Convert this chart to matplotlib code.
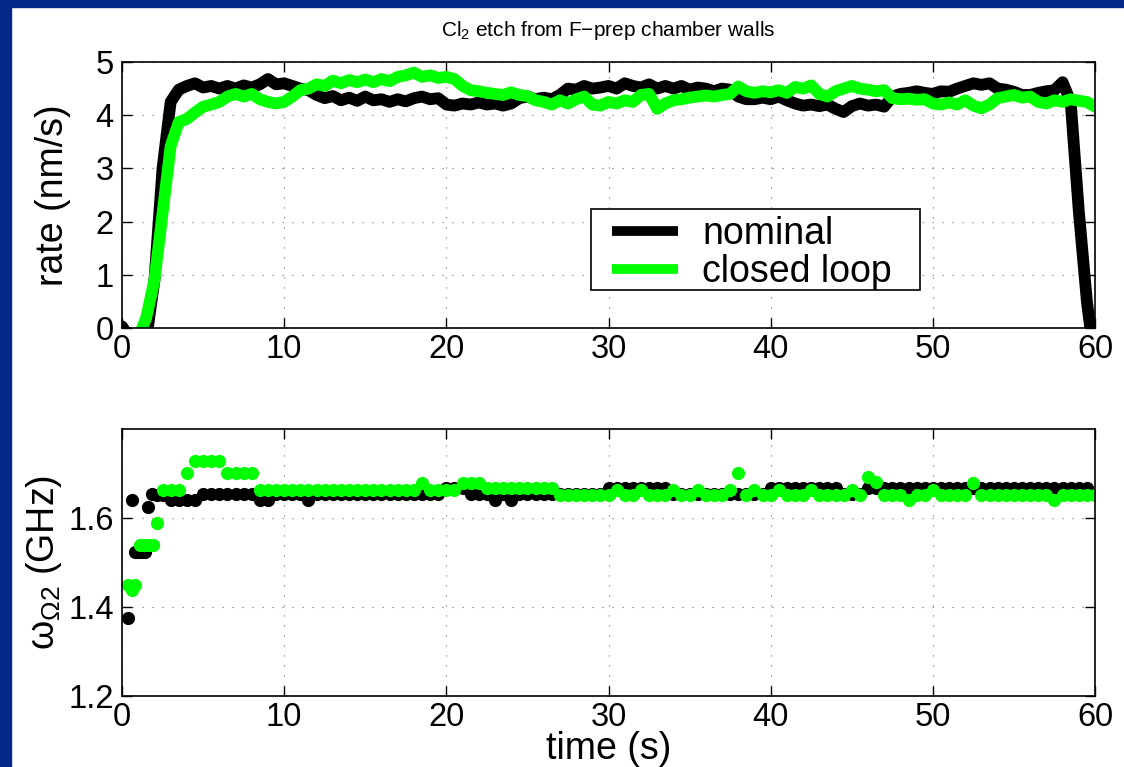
import numpy as np
import matplotlib
matplotlib.use('Agg')
import matplotlib.pyplot as plt
from matplotlib.patches import Rectangle

plt.rcParams['font.family'] = ['Liberation Sans', 'DejaVu Sans']
plt.rcParams['mathtext.fontset'] = 'custom'
plt.rcParams['mathtext.rm'] = 'Liberation Sans'
plt.rcParams['mathtext.it'] = 'Liberation Sans'

# %% data
# top panel: etch rate, sampled every 0.5 s from 0 to 60 s
t_rate = np.linspace(0, 60, 121)
rate_nominal = [0.03, -0.2, -0.2, -0.2,
                0.9, 3.0, 4.25, 4.48,
                4.55, 4.6, 4.52, 4.55,
                4.5, 4.55, 4.5, 4.56,
                4.52, 4.58, 4.68, 4.58,
                4.6, 4.55, 4.5, 4.47,
                4.38, 4.32, 4.36, 4.28,
                4.33, 4.27, 4.35, 4.28,
                4.3, 4.25, 4.3, 4.26,
                4.32, 4.35, 4.3, 4.32,
                4.2, 4.18, 4.22, 4.2,
                4.24, 4.2, 4.22, 4.18,
                4.22, 4.32, 4.35, 4.3,
                4.33, 4.3, 4.38, 4.5,
                4.48, 4.55, 4.5, 4.52,
                4.55, 4.5, 4.6, 4.55,
                4.52, 4.58, 4.5, 4.55,
                4.5, 4.55, 4.48, 4.52,
                4.5, 4.45, 4.5, 4.48,
                4.35, 4.3, 4.3, 4.33,
                4.3, 4.35, 4.28, 4.22,
                4.18, 4.2, 4.17, 4.2,
                4.12, 4.06, 4.17, 4.22,
                4.18, 4.2, 4.16, 4.35,
                4.4, 4.42, 4.45, 4.42,
                4.4, 4.45, 4.44, 4.5,
                4.55, 4.6, 4.57, 4.6,
                4.5, 4.48, 4.44, 4.38,
                4.38, 4.42, 4.45, 4.47,
                4.62, 4.25, 2.2, 0.5,
                -0.7]
rate_closed = [-0.2, -0.2, -0.2, 0.2,
               0.9, 2.15, 3.42, 3.87,
               3.93, 4.05, 4.16, 4.2,
               4.25, 4.35, 4.4, 4.35,
               4.4, 4.3, 4.25, 4.22,
               4.25, 4.35, 4.47, 4.5,
               4.58, 4.55, 4.65, 4.6,
               4.66, 4.62, 4.67, 4.62,
               4.68, 4.64, 4.72, 4.75,
               4.8, 4.72, 4.75, 4.7,
               4.72, 4.68, 4.55, 4.47,
               4.45, 4.42, 4.4, 4.38,
               4.43, 4.38, 4.36, 4.28,
               4.25, 4.2, 4.28, 4.22,
               4.3, 4.35, 4.2, 4.18,
               4.25, 4.22, 4.28, 4.25,
               4.38, 4.4, 4.12, 4.22,
               4.28, 4.3, 4.33, 4.35,
               4.37, 4.35, 4.38, 4.4,
               4.54, 4.45, 4.42, 4.45,
               4.43, 4.47, 4.42, 4.53,
               4.5, 4.56, 4.4, 4.35,
               4.45, 4.5, 4.55, 4.5,
               4.48, 4.45, 4.47, 4.32,
               4.3, 4.31, 4.29, 4.3,
               4.22, 4.2, 4.24, 4.2,
               4.28, 4.18, 4.13, 4.2,
               4.32, 4.35, 4.38, 4.33,
               4.35, 4.25, 4.22, 4.28,
               4.25, 4.3, 4.27, 4.25,
               4.16]

# bottom panel: omega (GHz); first seconds irregular, then every 0.5 s from 2.5 s
t_w_nom_early = [0.4, 0.6, 0.8, 1.0, 1.2, 1.4, 1.6, 1.85, 2.15]
w_nom_early = [1.376, 1.64, 1.524, 1.524, 1.524, 1.524, 1.624, 1.654, 1.652]
t_w_cl_early = [0.4, 0.6, 0.8, 1.1, 1.3, 1.5, 1.7, 1.9, 2.15]
w_cl_early = [1.449, 1.438, 1.449, 1.539, 1.539, 1.539, 1.539, 1.539, 1.588]

t_w = np.linspace(2.5, 60, 116)
w_nom = [1.652, 1.64, 1.64, 1.64, 1.64,
         1.654, 1.654, 1.654, 1.654, 1.654, 1.654, 1.654,
         1.64, 1.64,
         1.654, 1.654, 1.654, 1.654,
         1.64,
         1.654, 1.654, 1.654, 1.654, 1.654, 1.654, 1.654, 1.654,
         1.654, 1.654, 1.654, 1.654, 1.654, 1.654, 1.654, 1.654,
         1.667, 1.667, 1.667,
         1.654, 1.654, 1.654,
         1.64, 1.654, 1.64, 1.654,
         1.654, 1.654, 1.654, 1.654, 1.654, 1.654, 1.654, 1.654, 1.654, 1.654,
         1.667, 1.667, 1.667, 1.667, 1.667, 1.667, 1.667, 1.667,
         1.654, 1.654, 1.654, 1.654, 1.654, 1.654, 1.654, 1.654,
         1.654, 1.654, 1.654, 1.654,
         1.667, 1.667, 1.667, 1.667,
         1.667, 1.667, 1.667, 1.667, 1.667,
         1.654, 1.654, 1.654,
         1.667, 1.667,
         1.667, 1.667, 1.667, 1.667, 1.667, 1.667, 1.667, 1.667, 1.667,
         1.667, 1.667, 1.667, 1.667, 1.667, 1.667, 1.667, 1.667, 1.667,
         1.667, 1.667, 1.667, 1.667, 1.667, 1.667, 1.667, 1.667,
         np.nan]
w_cl = [1.663, 1.663, 1.663,
        1.702,
        1.727, 1.727, 1.727, 1.727,
        1.702, 1.702, 1.702, 1.702,
        1.663, 1.663, 1.663, 1.663, 1.663, 1.663, 1.663, 1.663, 1.663, 1.663,
        1.663, 1.663, 1.663, 1.663, 1.663, 1.663, 1.663, 1.663, 1.663, 1.663,
        1.678,
        1.663, 1.663, 1.663, 1.663,
        1.678, 1.678, 1.678,
        1.667, 1.667, 1.667, 1.667, 1.667, 1.667, 1.667, 1.667, 1.667,
        1.652, 1.652, 1.652, 1.652, 1.652, 1.652,
        1.652, 1.663, 1.652, 1.652, 1.663, 1.652, 1.652, 1.652,
        1.663, 1.652, 1.652, 1.663, 1.652, 1.652, 1.652, 1.663,
        1.702,
        1.652, 1.663, 1.652, 1.652, 1.663, 1.652,
        1.652, 1.652, 1.663, 1.652, 1.652, 1.652, 1.652, 1.663, 1.652,
        1.693, 1.682,
        1.652, 1.652, 1.652,
        1.64,
        1.652, 1.652, 1.663, 1.652, 1.652, 1.652, 1.652,
        1.678,
        1.652, 1.652, 1.652, 1.652, 1.652, 1.652, 1.652, 1.652, 1.652,
        1.64,
        1.652, 1.652, 1.652, 1.652, 1.652]

xticks = [0, 10, 20, 30, 40, 50, 60]

# %% figure
fig = plt.figure(figsize=(11.24, 7.67), dpi=100)
fig.patches.append(Rectangle((0, 1 - 7 / 767), 1, 7 / 767, transform=fig.transFigure,
                             color='#032a89', zorder=-1))
fig.patches.append(Rectangle((0, 0), 11 / 1124, 1, transform=fig.transFigure,
                             color='#032a89', zorder=-1))

ax1 = fig.add_axes([122 / 1124, 1 - 328 / 767, 973 / 1124, 266 / 767])
ax2 = fig.add_axes([122 / 1124, 1 - 696 / 767, 973 / 1124, 267 / 767])

ax1.plot(t_rate, rate_nominal, color='k', lw=8.5, solid_joinstyle='round',
         solid_capstyle='round', label='nominal')
ax1.plot(t_rate, rate_closed, color='#00ff00', lw=8.5, solid_joinstyle='round',
         solid_capstyle='round', label='closed loop')
ax1.set_xlim(0, 60)
ax1.set_ylim(0, 5)
ax1.set_yticks([0, 1, 2, 3, 4, 5])
ax1.set_ylabel('rate (nm/s)', fontsize=27)
ax1.yaxis.set_label_coords(-0.052, 0.5)
ax1.set_title('Cl$_2$ etch from F\u2212prep chamber walls', fontsize=15, pad=19)

# legend box drawn separately so its padding matches the original
ax1.add_patch(Rectangle((0.482, 0.143), 0.338, 0.304, transform=ax1.transAxes,
                        facecolor='white', edgecolor='k', lw=1.2, zorder=4))
leg = ax1.legend(loc='center left', bbox_to_anchor=(0.5036, 0.283), borderaxespad=0,
                 fontsize=27, handlelength=1.76, handletextpad=0.64,
                 labelspacing=0.05, borderpad=0, frameon=False)
leg.set_zorder(5)
for h in leg.legend_handles:
    h.set_linewidth(7)
    h.set_solid_capstyle('butt')

ax2.plot(t_w_nom_early, w_nom_early, 'o', color='k', ms=9.5, mec='none')
ax2.plot(t_w, w_nom, 'o', color='k', ms=9.5, mec='none')
ax2.plot(t_w_cl_early, w_cl_early, 'o', color='#00ff00', ms=9.5, mec='none')
ax2.plot(t_w, w_cl, 'o', color='#00ff00', ms=9.5, mec='none')
ax2.set_xlim(0, 60)
ax2.set_ylim(1.2, 1.8)
ax2.set_yticks([1.2, 1.4, 1.6])
ax2.set_yticklabels(['1.2', '1.4', '1.6'])
ax2.set_xlabel('time (s)', fontsize=27, labelpad=-1)
ax2.set_ylabel('\u03c9$_{\u03a92}$ (GHz)', fontsize=27)
ax2.yaxis.set_label_coords(-0.06, 0.5)

for ax in (ax1, ax2):
    ax.set_xticks(xticks)
    ax.grid(True, color='0.4', lw=0.8, ls=(0, (1, 8)))
    ax.tick_params(direction='in', top=True, right=True, length=7, width=1,
                   labelsize=23.5, pad=4)
    ax.tick_params(axis='y', pad=6)
    for s in ax.spines.values():
        s.set_linewidth(1.2)

fig.savefig('out.png', dpi=100)
